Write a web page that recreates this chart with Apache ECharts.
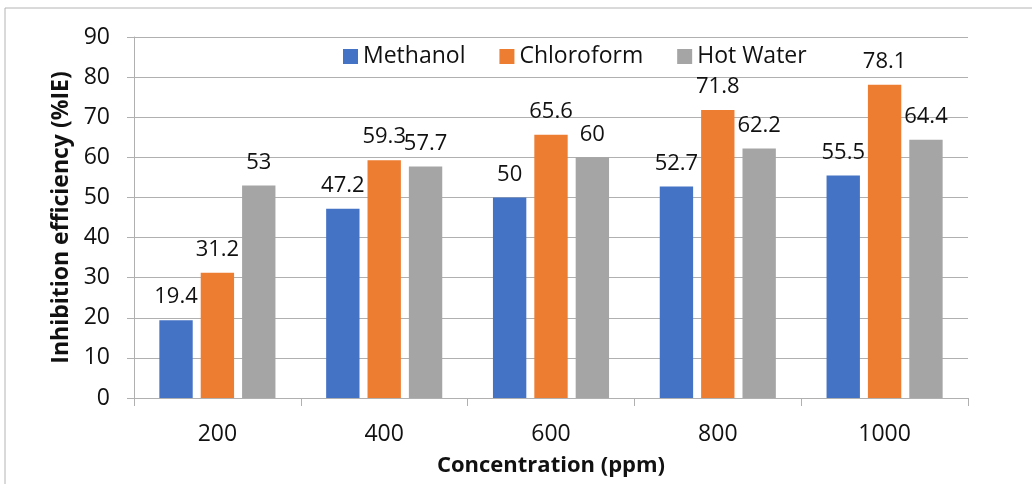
<!DOCTYPE html>
<html lang="en">
<head>
    <meta charset="UTF-8">
    <title>Inhibition efficiency</title>
    <script type="text/javascript" src="https://cdn.jsdelivr.net/npm/echarts@6/dist/echarts.min.js"></script>
    <style>
        html, body { margin: 0; padding: 0; background: #fff; }
        #chart { width: 1032px; height: 484px; }
    </style>
</head>
<body>
<div id="chart"></div>
<script type="text/javascript">
    var categories = ['200', '400', '600', '800', '1000'];
    var methanol = [19.4, 47.2, 50, 52.7, 55.5];
    var chloroform = [31.2, 59.3, 65.6, 71.8, 78.1];
    var hotWater = [53, 57.7, 60, 62.2, 64.4];
    var seriesNames = ['Methanol', 'Chloroform', 'Hot Water'];
    var colors = ['#4472C4', '#ED7D31', '#A5A5A5'];

    var font = "'Open Sans', 'Noto Sans', sans-serif";
    var textColor = '#111';
    var lineColor = '#B0B0B0';

    function barSeries(name, data, color) {
        return {
            name: name,
            type: 'bar',
            data: data,
            barWidth: '20%',
            barGap: '24%',
            itemStyle: {color: color},
            label: {
                show: true,
                position: 'top',
                distance: 12,
                color: textColor,
                fontFamily: font,
                fontSize: 22
            }
        };
    }

    var mychart = echarts.init(document.getElementById('chart'));
    var option = {
        animation: false,
        color: colors,
        graphic: [{
            type: 'rect',
            shape: {x: 5, y: 8, width: 1040, height: 490},
            style: {fill: 'none', stroke: '#B4B4B4', lineWidth: 1},
            z: -1
        }],
        legend: {
            data: seriesNames,
            left: 338,
            top: 40,
            itemWidth: 15,
            itemHeight: 15,
            itemGap: 34,
            icon: 'rect',
            textStyle: {color: textColor, fontFamily: font, fontSize: 23}
        },
        grid: {left: 134, right: 64, top: 37, bottom: 86, containLabel: false},
        xAxis: {
            type: 'category',
            data: categories,
            name: 'Concentration (ppm)',
            nameLocation: 'middle',
            nameGap: 57,
            nameTextStyle: {color: textColor, fontFamily: font, fontSize: 22, fontWeight: 'bold'},
            axisLine: {lineStyle: {color: lineColor, width: 1}},
            axisTick: {show: true, length: 8, lineStyle: {color: lineColor}},
            axisLabel: {color: textColor, fontFamily: font, fontSize: 23, margin: 25}
        },
        yAxis: {
            type: 'value',
            min: 0,
            max: 90,
            interval: 10,
            name: 'Inhibition efficiency (%IE)',
            nameLocation: 'middle',
            nameGap: 60,
            nameTextStyle: {color: textColor, fontFamily: font, fontSize: 23, fontWeight: 'bold'},
            axisLine: {show: true, lineStyle: {color: lineColor, width: 1}},
            axisTick: {show: true, length: 7, lineStyle: {color: lineColor}},
            axisLabel: {color: textColor, fontFamily: font, fontSize: 23, margin: 24},
            splitLine: {lineStyle: {color: lineColor, width: 1}}
        },
        series: [
            barSeries(seriesNames[0], methanol, colors[0]),
            barSeries(seriesNames[1], chloroform, colors[1]),
            barSeries(seriesNames[2], hotWater, colors[2])
        ]
    };
    mychart.setOption(option);
</script>
</body>
</html>
